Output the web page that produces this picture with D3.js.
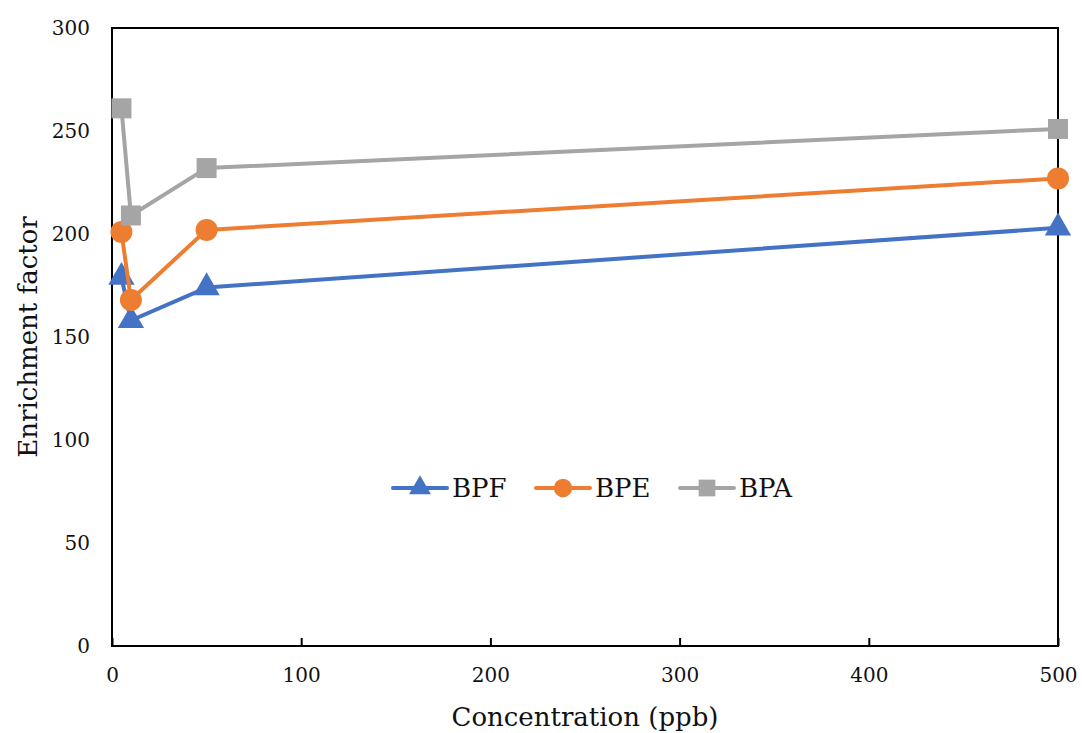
<!DOCTYPE html>
<html>
<head>
<meta charset="utf-8">
<script src="https://cdn.jsdelivr.net/npm/d3@7"></script>
<style>
  html, body { margin: 0; padding: 0; background: #fff; }
  svg { display: block; }
  text { font-family: "DejaVu Serif", serif; fill: #111; }
</style>
</head>
<body>
<svg id="chart" width="1082" height="733"></svg>
<script>
// Concentration (ppb) sampled for each compound
const concentrations = [5, 10, 50, 500];
const bpfValues = [179, 158, 174, 203];
const bpeValues = [201, 168, 202, 227];
const bpaValues = [261, 209, 232, 251];
const xTicks = [0, 100, 200, 300, 400, 500];
const yTicks = [0, 50, 100, 150, 200, 250, 300];

const seriesList = [
  { name: "BPF", values: bpfValues, color: "#4472C4", symbol: d3.symbolTriangle, size: 300 },
  { name: "BPE", values: bpeValues, color: "#ED7D31", symbol: d3.symbolCircle, size: 380 },
  { name: "BPA", values: bpaValues, color: "#A5A5A5", symbol: d3.symbolSquare, size: 400 }
];

const svg = d3.select("#chart");
const margin = { left: 112, right: 24, top: 28, bottom: 87 };
const W = 1082, H = 733;

const x = d3.scaleLinear().domain([0, 500]).range([margin.left, W - margin.right]);
const y = d3.scaleLinear().domain([0, 300]).range([H - margin.bottom, margin.top]);

// Plot frame
svg.append("rect")
  .attr("x", x(0)).attr("y", y(300))
  .attr("width", x(500) - x(0)).attr("height", y(0) - y(300))
  .attr("fill", "none").attr("stroke", "#000").attr("stroke-width", 2);

// X axis: inward ticks, labels below
const xAxis = svg.append("g").attr("transform", `translate(0,${y(0)})`)
  .call(d3.axisBottom(x).tickValues(xTicks).tickSize(-8).tickPadding(22).tickFormat(d3.format("d")));
xAxis.select(".domain").remove();
xAxis.selectAll(".tick line").attr("stroke", "#000").attr("stroke-width", 2);
xAxis.selectAll(".tick text").style("font-size", "20px").attr("fill", "#111");

// Y axis: labels only
const yAxis = svg.append("g").attr("transform", `translate(${x(0)},0)`)
  .call(d3.axisLeft(y).tickValues(yTicks).tickSize(0).tickPadding(22).tickFormat(d3.format("d")));
yAxis.select(".domain").remove();
yAxis.selectAll(".tick text").style("font-size", "20px").attr("fill", "#111");

// Axis titles
svg.append("text")
  .attr("x", 585).attr("y", 726)
  .attr("text-anchor", "middle").style("font-size", "26px")
  .text("Concentration (ppb)");
svg.append("text")
  .attr("transform", `translate(37,${(y(0) + y(300)) / 2}) rotate(-90)`)
  .attr("text-anchor", "middle").style("font-size", "26px")
  .text("Enrichment factor");

// Series lines and markers
const line = d3.line().x((d, i) => x(concentrations[i])).y(d => y(d));
seriesList.forEach(s => {
  svg.append("path").datum(s.values)
    .attr("d", line).attr("fill", "none")
    .attr("stroke", s.color).attr("stroke-width", 4)
    .attr("stroke-linejoin", "round");
  svg.selectAll(null).data(s.values).enter().append("path")
    .attr("transform", (d, i) => `translate(${x(concentrations[i])},${y(d)})`)
    .attr("d", d3.symbol().type(s.symbol).size(s.size))
    .attr("fill", s.color);
});

// Legend
const legendX = [393, 536, 680];
const legendY = 488;
seriesList.forEach((s, i) => {
  const g = svg.append("g").attr("transform", `translate(${legendX[i]},${legendY})`);
  g.append("line").attr("x1", 0).attr("x2", 54).attr("y1", 0).attr("y2", 0)
    .attr("stroke", s.color).attr("stroke-width", 4).attr("stroke-linecap", "round");
  g.append("path").attr("transform", "translate(27,0)")
    .attr("d", d3.symbol().type(s.symbol).size(s.size * 0.7)).attr("fill", s.color);
  g.append("text").attr("x", 59).attr("y", 9).style("font-size", "26px").text(s.name);
});
</script>
</body>
</html>
